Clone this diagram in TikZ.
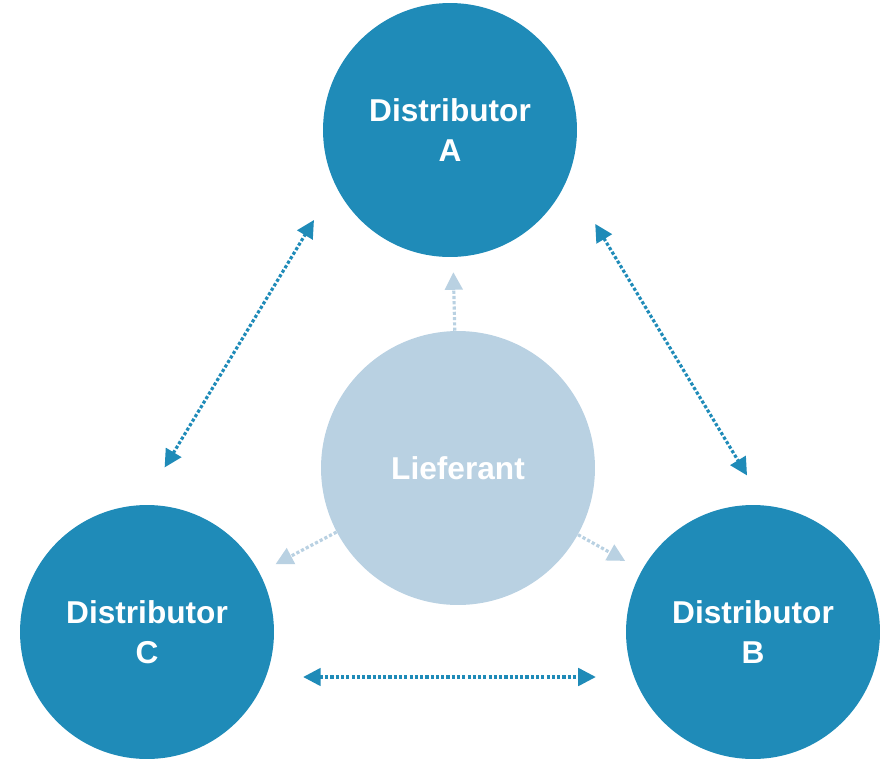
\documentclass[tikz,border=0pt]{standalone}
\usepackage{fontspec}
\setmainfont{Liberation Sans}
\usepackage{xcolor}
\usepackage{tikz}
\usetikzlibrary{arrows.meta}
\definecolor{distblue}{RGB}{31,139,184}
\definecolor{supblue}{RGB}{185,209,226}
\tikzstyle{dist} = [circle, fill=distblue, text=white, align=center, minimum size=5.08cm, inner sep=0pt, font=\bfseries\fontsize{18}{22.7}\selectfont]
\tikzstyle{supp} = [circle, fill=supblue, text=white, align=center, minimum size=5.48cm, inner sep=0pt, font=\bfseries\fontsize{18}{22.7}\selectfont]
\tikzstyle{link} = [draw=distblue, line width=1.8pt, dash pattern=on 1.8pt off 1.2pt, {Triangle[length=10pt,width=10pt]}-{Triangle[length=10pt,width=10pt]}]
\tikzstyle{feed} = [draw=supblue, line width=1.8pt, dash pattern=on 1.8pt off 1.2pt, -{Triangle[length=10pt,width=10pt]}]

\begin{document}
\begin{tikzpicture}[x=0.02cm, y=-0.02cm]
\useasboundingbox (0,0) rectangle (885,758);
\node [dist] (dA) at (450,130) {Distributor\\A};
\node [dist] (dB) at (753,632) {Distributor\\B};
\node [dist] (dC) at (147,632) {Distributor\\C};
\node [supp] (lf) at (458,468) {Lieferant};

% arrows between the distributors, set off to the outside
\path [link, shorten <=13pt, shorten >=11.3pt, transform canvas={shift={(-1.2cm,0.72cm)}}] (dC) -- (dA);
\path [link, shorten <=15.9pt, shorten >=5.7pt, transform canvas={shift={(1.3cm,0.78cm)}}] (dA) -- (dB);
\path [link, shorten <=16.4pt, shorten >=17pt, transform canvas={shift={(0cm,-0.9cm)}}] (dC) -- (dB);

% supplier to each distributor
\path [feed, shorten >=8.5pt] (lf) -- (dA);
\path [feed, shorten >=10.2pt] (lf) -- (dC);
\path [feed, shorten >=10.8pt] (lf) -- (dB);
\end{tikzpicture}
\end{document}
